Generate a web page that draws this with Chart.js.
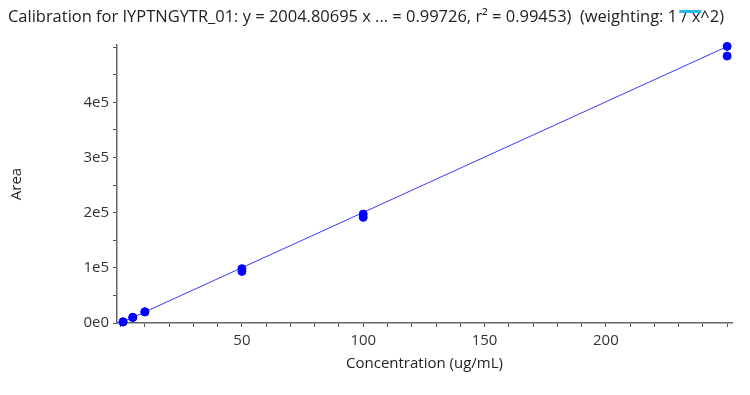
<!DOCTYPE html>
<html>
<head>
<meta charset="utf-8">
<script src="https://cdn.jsdelivr.net/npm/chart.js@4/dist/chart.umd.min.js"></script>
<style>
  html, body { margin: 0; padding: 0; background: #fff; }
  #wrap { width: 750px; height: 395px; }
</style>
</head>
<body>
<div id="wrap"><canvas id="calChart" width="750" height="395"></canvas></div>
<script>
const titleHead = 'Calibration for IYPTNGYTR_01: y = 2004.80695 x ... = 0.99726, r\u00B2 = 0.99453)  (weighting: 1';
const titleTail = ' / x^2)';

// measured standards
const concentration = [1, 1, 5, 5, 10, 10, 50, 50, 100, 100, 250, 250];
const area = [1900, 2100, 10300, 10000, 20400, 20000, 98500, 93500, 197500, 191500, 501500, 484000];

// regression line end points
const fitX = [1, 252];
const fitY = [2005, 505211];

const xTickValues = [0, 10, 20, 30, 40, 50, 60, 70, 80, 90, 100, 110, 120, 130, 140, 150, 160, 170, 180, 190, 200, 210, 220, 230, 240, 250];
const xTickLabels = [50, 100, 150, 200];
const yTickValues = [0, 50000, 100000, 150000, 200000, 250000, 300000, 350000, 400000, 450000, 500000];
const yTickLabels = { 0: '0e0', 100000: '1e5', 200000: '2e5', 300000: '3e5', 400000: '4e5' };

const fontFamily = '"Open Sans", "Noto Sans", sans-serif';

const titlePlugin = {
    id: 'titlePlugin',
    afterDraw(chart) {
        const ctx = chart.ctx;
        const full = titleHead + titleTail;
        ctx.save();
        ctx.font = '16px ' + fontFamily;
        const w = ctx.measureText(full).width;
        const sx = 716 / w;
        ctx.translate(8, 17);
        ctx.scale(sx, 1);
        ctx.fillStyle = '#222';
        ctx.textBaseline = 'middle';
        ctx.fillText(full, 0, 0);
        // highlight over "/ x"
        const a = ctx.measureText(titleHead + ' ').width;
        const b = ctx.measureText(titleHead + ' / x').width;
        ctx.fillStyle = '#29b6e8';
        ctx.fillRect(a - 2, -7, b - a + 3, 3);
        ctx.restore();
    }
};

const points = concentration.map((c, i) => ({ x: c, y: area[i] }));
const fitLine = fitX.map((c, i) => ({ x: c, y: fitY[i] }));

const config = {
    type: 'scatter',
    data: {
        datasets: [{
            label: 'Fit',
            data: fitLine,
            showLine: true,
            borderColor: '#3a3aff',
            borderWidth: 1,
            pointRadius: 0,
            order: 2
        },
        {
            label: 'Standards',
            data: points,
            backgroundColor: '#0000ff',
            borderColor: '#0000ff',
            pointRadius: 4,
            clip: false,
            order: 1
        }]
    },
    options: {
        responsive: false,
        animation: false,
        layout: { padding: { top: 45, right: 18, bottom: 22, left: 0 } },
        plugins: {
            legend: { display: false },
            tooltip: { enabled: false }
        },
        scales: {
            x: {
                type: 'linear',
                min: -1.5,
                max: 252,
                afterBuildTicks: s => { s.ticks = xTickValues.map(v => ({ value: v })); },
                afterFit: s => { s.height = 50; },
                grid: { drawOnChartArea: false, tickLength: 4, color: '#555' },
                border: { color: '#666', width: 1.5 },
                ticks: {
                    autoSkip: false,
                    maxRotation: 0,
                    color: '#333',
                    font: { family: fontFamily, size: 15 },
                    padding: 5,
                    callback: v => xTickLabels.includes(v) ? String(v) : ''
                },
                title: {
                    display: true,
                    text: 'Concentration (ug/mL)',
                    color: '#222',
                    font: { family: fontFamily, size: 15 },
                    padding: { top: 2, bottom: 0 }
                }
            },
            y: {
                type: 'linear',
                min: 0,
                max: 504000,
                afterBuildTicks: s => { s.ticks = yTickValues.map(v => ({ value: v })); },
                afterFit: s => { s.width = 117; },
                grid: { drawOnChartArea: false, tickLength: 4, color: '#555' },
                border: { color: '#666', width: 1.5 },
                ticks: {
                    autoSkip: false,
                    color: '#333',
                    font: { family: fontFamily, size: 15 },
                    padding: 4,
                    callback: v => yTickLabels[v] !== undefined ? yTickLabels[v] : ''
                },
                title: {
                    display: true,
                    text: 'Area',
                    color: '#222',
                    font: { family: fontFamily, size: 15 },
                    padding: { top: 8, bottom: 0 }
                }
            }
        }
    },
    plugins: [titlePlugin]
};

const calChart = new Chart(document.getElementById('calChart'), config);
</script>
</body>
</html>
